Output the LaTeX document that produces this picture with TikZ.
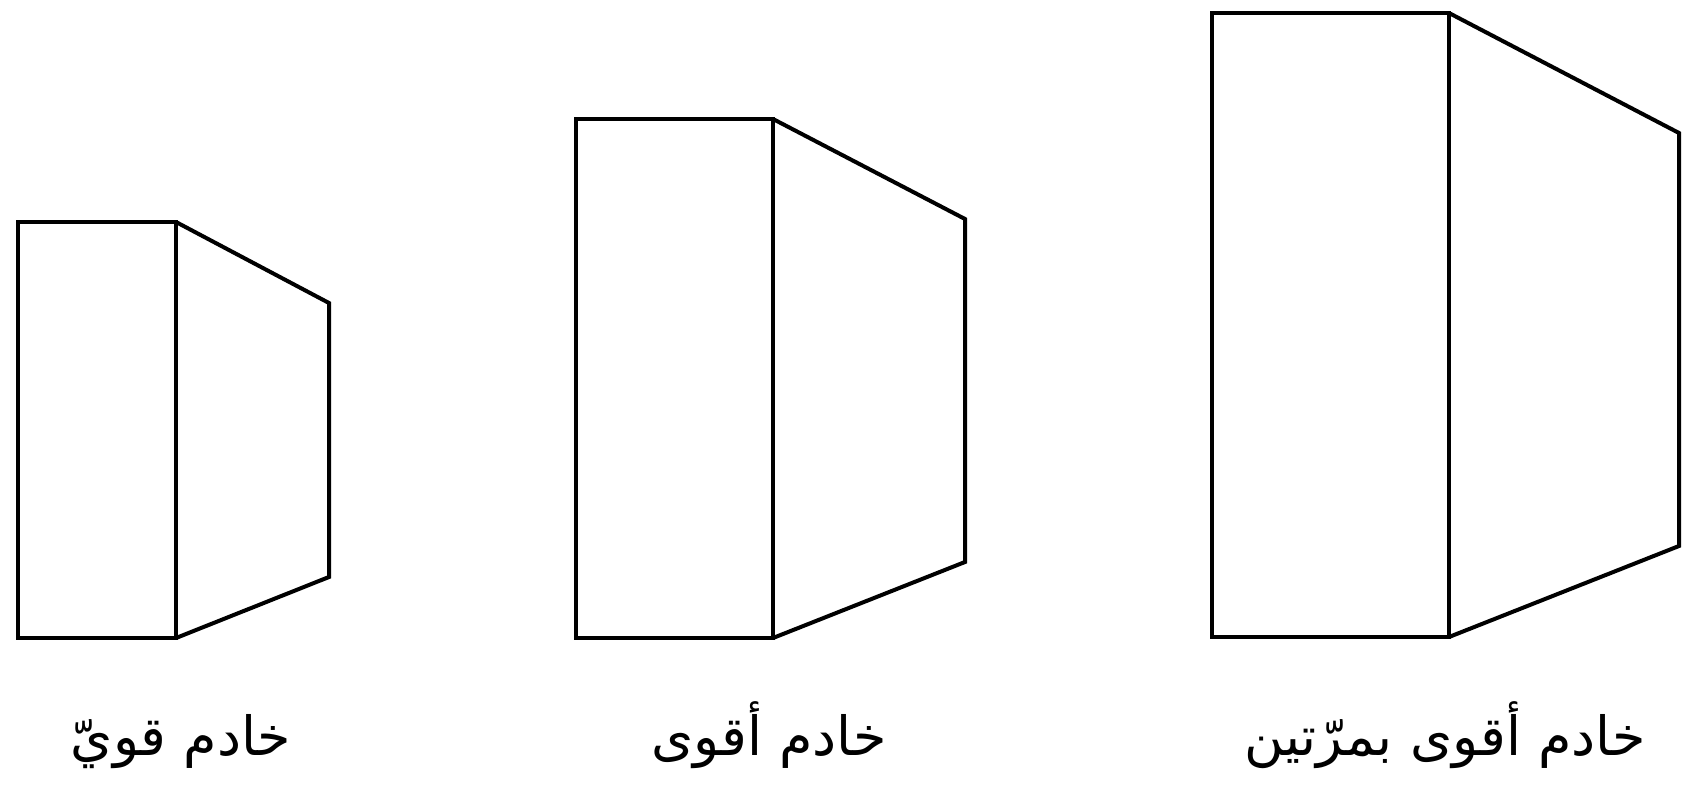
\documentclass[tikz,border=0pt]{standalone}
\usepackage{fontspec}
\newfontfamily\arabicfont[Script=Arabic]{DejaVu Sans}
\TeXXeTstate=1
\begin{document}
\begin{tikzpicture}[x=1pt,y=-1pt,
  edge/.style={line width=4pt,line join=miter,black},
  lbl/.style={font=\arabicfont\fontsize{54}{62}\selectfont,inner sep=0pt,anchor=base}]
\useasboundingbox (0,0) rectangle (1697,797);
% server 1
\coordinate (a1) at (18,222); \coordinate (b1) at (176,222);
\coordinate (c1) at (176,638); \coordinate (d1) at (18,638);
\coordinate (e1) at (329,303); \coordinate (f1) at (329,577);
\draw[edge] (a1) rectangle (c1);
\draw[edge] (b1) -- (e1) -- (f1) -- (c1);
% server 2
\coordinate (a2) at (576,119); \coordinate (b2) at (773,119);
\coordinate (c2) at (773,638); \coordinate (d2) at (576,638);
\coordinate (e2) at (965,219); \coordinate (f2) at (965,562);
\draw[edge] (a2) rectangle (c2);
\draw[edge] (b2) -- (e2) -- (f2) -- (c2);
% server 3
\coordinate (a3) at (1212,13); \coordinate (b3) at (1449,13);
\coordinate (c3) at (1449,637); \coordinate (d3) at (1212,637);
\coordinate (e3) at (1679,133); \coordinate (f3) at (1679,546);
\draw[edge] (a3) rectangle (c3);
\draw[edge] (b3) -- (e3) -- (f3) -- (c3);
% labels
\node[lbl] (l1) at (181,755) {\beginR خادم قويّ\endR};
\node[lbl] (l2) at (769,755) {\beginR خادم أقوى\endR};
\node[lbl] (l3) at (1445,755) {\beginR خادم أقوى بمرّتين\endR};
\end{tikzpicture}
\end{document}
